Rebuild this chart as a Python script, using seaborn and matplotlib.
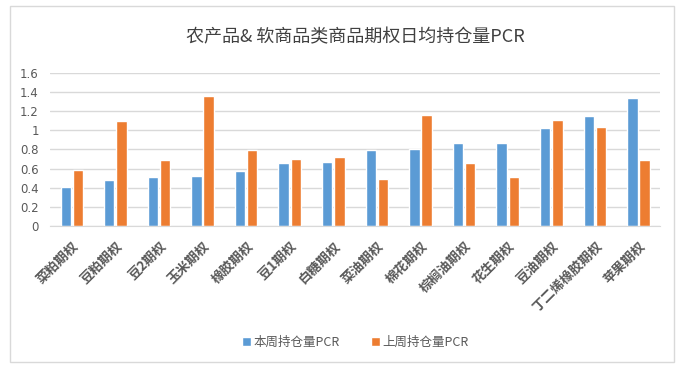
import pandas as pd
import matplotlib
matplotlib.use("Agg")
import matplotlib.pyplot as plt
import seaborn as sns
from matplotlib.patches import Rectangle

## Data
categories = ["菜粕期权", "豆粕期权", "豆2期权", "玉米期权", "橡胶期权", "豆1期权", "白糖期权",
              "菜油期权", "棉花期权", "棕榈油期权", "花生期权", "豆油期权", "丁二烯橡胶期权", "苹果期权"]
this_week = [0.41, 0.48, 0.515, 0.52, 0.575, 0.66, 0.67, 0.795, 0.80, 0.865, 0.865, 1.02, 1.15, 1.335]
last_week = [0.585, 1.095, 0.695, 1.36, 0.795, 0.70, 0.72, 0.49, 1.155, 0.66, 0.51, 1.11, 1.03, 0.695]
series_names = ["本周持仓量PCR", "上周持仓量PCR"]
yticks = [0, 0.2, 0.4, 0.6, 0.8, 1, 1.2, 1.4, 1.6]
ytick_labels = ["0", "0.2", "0.4", "0.6", "0.8", "1", "1.2", "1.4", "1.6"]

df = pd.DataFrame({
    "品种": categories * 2,
    "PCR": this_week + last_week,
    "系列": [series_names[0]] * len(categories) + [series_names[1]] * len(categories),
})

## Style
sns.set_style("white")
plt.rcParams["font.family"] = ["Noto Sans CJK SC", "DejaVu Sans"]

fig = plt.figure(figsize=(6.88, 3.75), dpi=100)
ax = fig.add_axes([0.0727, 0.397, 0.887, 0.409])

sns.barplot(data=df, x="品种", y="PCR", hue="系列",
            palette=["#5B9BD5", "#ED7D31"], width=0.56, gap=0.15,
            saturation=1, ax=ax)

ax.set_ylim(0, 1.6)
ax.set_xlim(-0.5, len(categories) - 0.5)
ax.set_yticks(yticks)
ax.set_yticklabels(ytick_labels, color="#595959", fontsize=8.5, family="DejaVu Sans")
ax.yaxis.grid(True, color="#D9D9D9", linewidth=1)
ax.set_axisbelow(True)
for s in ["top", "right", "left"]:
    ax.spines[s].set_visible(False)
ax.spines["bottom"].set_color("#D9D9D9")
ax.tick_params(axis="y", length=0, pad=8)
ax.tick_params(axis="x", length=0, pad=9)
ax.set_xticks(range(len(categories)))
ax.set_xticklabels(categories, rotation=45, ha="right", rotation_mode="anchor",
                   fontsize=9.5, fontweight="bold", color="#595959")
ax.set_xlabel("")
ax.set_ylabel("")

ax.set_title("农产品& 软商品类商品期权日均持仓量PCR", fontsize=13, color="#404040", pad=22)

ax.legend(loc="upper center", bbox_to_anchor=(0.5, -0.64), ncol=2, frameon=False,
          fontsize=9, handlelength=0.7, handleheight=0.7, handletextpad=0.2,
          columnspacing=2.5, labelcolor="#595959")

# outer chart border
fig.patches.append(Rectangle((0.015, 0.035), 0.965, 0.95, transform=fig.transFigure,
                             fill=False, edgecolor="#D9D9D9", linewidth=1))

plt.savefig("out.png", dpi=100)
